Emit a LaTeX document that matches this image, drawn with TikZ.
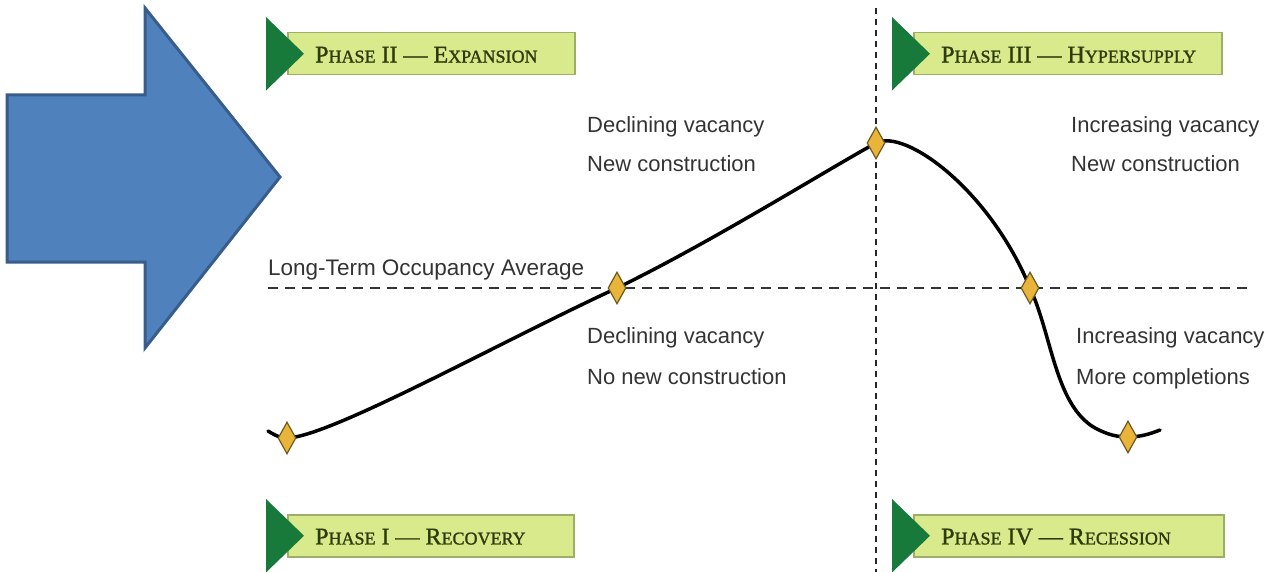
\documentclass[tikz,border=0pt]{standalone}
\usepackage{fontspec}
\newfontfamily\labelfont{Liberation Sans}
\newfontfamily\phasefont[FakeBold=1.3]{Liberation Serif}
\newcommand\bannersc{\fontsize{18}{20}\selectfont}
\usetikzlibrary{shapes.geometric}

\definecolor{arrowblue}{HTML}{4F81BD}
\definecolor{arrowline}{HTML}{385D8A}
\definecolor{phasegreen}{HTML}{17793A}
\definecolor{bannerfill}{HTML}{D8EA8C}
\definecolor{bannerline}{HTML}{9DAE68}
\definecolor{bannertext}{HTML}{2E3C0C}
\definecolor{markfill}{HTML}{E9B43A}
\definecolor{markline}{HTML}{6E5A1E}
\definecolor{labelgray}{HTML}{333333}

\tikzset{
  bannerbox/.style={draw=bannerline, fill=bannerfill, line width=1.5pt,
    minimum height=42pt, inner sep=0pt},
  bannerlabel/.style={anchor=west, inner sep=0pt, text=bannertext,
    font=\phasefont\fontsize{24}{26}\selectfont},
  marker/.style={diamond, draw=markline, fill=markfill, line width=1.2pt,
    inner sep=0pt, minimum width=18pt, minimum height=32pt},
  note/.style={anchor=base west, inner sep=0pt, text=labelgray,
    font=\labelfont\fontsize{22}{26}\selectfont},
  avgline/.style={dashed, dash pattern=on 10pt off 7pt, line width=2.4pt, black!80},
}

\begin{document}
\begin{tikzpicture}[x=1pt,y=-1pt]
\useasboundingbox (0,0) rectangle (1271,572);

% big blue arrow
\draw[fill=arrowblue, draw=arrowline, line width=3pt, line join=miter]
  (7,95) -- (145,95) -- (145,8) -- (280,177) -- (145,348) -- (145,262) -- (7,262) -- cycle;

% phase banners
\foreach \name/\x/\y/\w/\txt in {
    ph2/287/32/287/P{\bannersc HASE} II — E{\bannersc XPANSION},
    ph3/913/32/308/P{\bannersc HASE} III — H{\bannersc YPERSUPPLY},
    ph1/287/514/286/P{\bannersc HASE} I — R{\bannersc ECOVERY},
    ph4/913/514/310/P{\bannersc HASE} IV — R{\bannersc ECESSION}}{
  \node[bannerbox, minimum width=\w pt, anchor=north west] (\name) at (\x,\y) {};
  \fill[phasegreen] ([xshift=-21pt,yshift=15pt]\name.north west)
    -- ([xshift=17pt]\name.west) -- ([xshift=-21pt,yshift=-15pt]\name.south west) -- cycle;
  \node[bannerlabel] (\name text) at ([xshift=28pt,yshift=-1pt]\name.west) {\txt};
}

% axes
\coordinate (avgstart) at (268,288);
\coordinate (avgend) at (1250,288);
\coordinate (divtop) at (876,8);
\coordinate (divbottom) at (876,572);
\draw[avgline] (avgstart) -- (avgend);
\draw[dashed, dash pattern=on 6pt off 5pt, line width=2.8pt, black!85] (divtop) -- (divbottom);

\node[note, font=\labelfont\fontsize{22.5}{26}\selectfont] (avglabel) at (268,275) {Long-Term Occupancy Average};

% cycle points
\coordinate (start) at (268,431);
\coordinate (trough1) at (287,438);
\coordinate (midup) at (617,288);
\coordinate (peak) at (876,143);
\coordinate (middown) at (1030,288);
\coordinate (trough2) at (1128,437);
\coordinate (finish) at (1160,430);

% market cycle curve
\draw[line width=3.5pt, line cap=round]
  (start) .. controls (276,436) and (281,438) .. (trough1)
  .. controls (330,437) and (500,342) .. (midup)
  .. controls (710,243) and (830,168) .. (peak)
  .. controls (905,128) and (990,190) .. (middown)
  .. controls (1052,335) and (1055,405) .. (1095,428)
  .. controls (1108,435) and (1118,437) .. (trough2)
  .. controls (1140,437) and (1150,434) .. (finish);

\foreach \p in {trough1,midup,peak,middown,trough2}
  \node[marker] (\p mark) at (\p) {};

% notes
\node[note] (expvac) at (587,133) {Declining vacancy};
\node[note] (expcon) at (587,172) {New construction};
\node[note] (recvac) at (587,343) {Declining vacancy};
\node[note] (reccon) at (587,384) {No new construction};
\node[note] (hypvac) at (1071,133) {Increasing vacancy};
\node[note] (hypcon) at (1071,172) {New construction};
\node[note] (resvac) at (1076,343) {Increasing vacancy};
\node[note] (rescon) at (1076,384) {More completions};
\end{tikzpicture}
\end{document}
